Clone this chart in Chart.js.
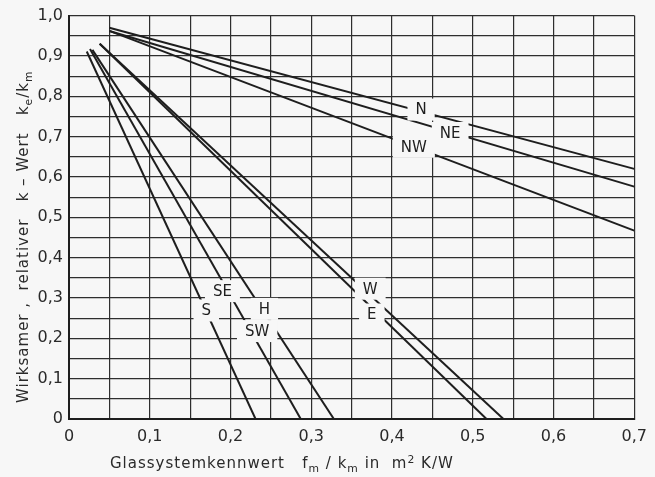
<!DOCTYPE html>
<html>
<head>
<meta charset="utf-8">
<script src="https://cdn.jsdelivr.net/npm/chart.js@4.4.1/dist/chart.umd.min.js"></script>
<style>
  html, body { margin: 0; padding: 0; background: #f7f7f7; }
  #wrap { width: 655px; height: 477px; }
</style>
</head>
<body>
<div id="wrap"><canvas id="kwert" width="655" height="477"></canvas></div>
<script>
// Glassystemkennwert fm/km (x) against relativer k-Wert ke/km (y), one straight line per orientation
const seriesNames = ['N', 'NE', 'NW', 'W', 'E', 'S', 'SE/SW', 'H'];
const nX = [0.05, 0.70],   nY = [0.970, 0.620];
const neX = [0.05, 0.70],  neY = [0.962, 0.576];
const nwX = [0.05, 0.70],  nwY = [0.962, 0.467];
const wX = [0.038, 0.538], wY = [0.930, 0];
const eX = [0.038, 0.517], eY = [0.930, 0];
const sX = [0.022, 0.231], sY = [0.911, 0];
const seswX = [0.026, 0.287], seswY = [0.917, 0];
const hX = [0.029, 0.328], hY = [0.915, 0];
const xTicks = [0, 0.1, 0.2, 0.3, 0.4, 0.5, 0.6, 0.7];
const yTicks = [0, 0.1, 0.2, 0.3, 0.4, 0.5, 0.6, 0.7, 0.8, 0.9, 1.0];

// curve labels (text, fm, ke/km where the label sits)
const labelText = ['N', 'NE', 'NW', 'W', 'E', 'SE', 'S', 'H', 'SW'];
const labelX = [0.436, 0.472, 0.427, 0.373, 0.375, 0.190, 0.170, 0.242, 0.233];
const labelY = [0.767, 0.709, 0.675, 0.323, 0.259, 0.317, 0.269, 0.273, 0.218];

const BG = '#f7f7f7';
const INK = '#1e1e1e';
const FONT = '"DejaVu Sans", sans-serif';

const allX = [nX, neX, nwX, wX, eX, sX, seswX, hX];
const allY = [nY, neY, nwY, wY, eY, sY, seswY, hY];

const datasets = seriesNames.map((name, i) => ({
    label: name,
    data: allX[i].map((x, j) => ({ x: x, y: allY[i][j] })),
    showLine: true,
    borderColor: INK,
    borderWidth: 2,
    pointRadius: 0,
    fill: false
}));

function comma(v) {
    const r = Math.round(v * 100);
    if (r === 0) return '0';
    if (r % 10 !== 0) return '';
    return (r / 100).toFixed(1).replace('.', ',');
}

// draws text made of pieces, some of them lowered (subscript) or raised (superscript)
function richText(ctx, parts, x, y, size) {
    let cx = x;
    parts.forEach(p => {
        const s = p.sub || p.sup ? size * 0.72 : size;
        ctx.font = s + 'px ' + FONT;
        const dy = p.sub ? size * 0.28 : (p.sup ? -size * 0.35 : 0);
        ctx.fillText(p.t, cx, y + dy);
        cx += ctx.measureText(p.t).width;
    });
}

const labelPlugin = {
    id: 'curveLabels',
    afterDatasetsDraw(chart) {
        const ctx = chart.ctx;
        const xs = chart.scales.x, ys = chart.scales.y;
        ctx.save();
        ctx.font = '15px ' + FONT;
        ctx.textAlign = 'center';
        ctx.textBaseline = 'middle';
        labelText.forEach((t, i) => {
            const px = xs.getPixelForValue(labelX[i]);
            const py = ys.getPixelForValue(labelY[i]);
            const w = ctx.measureText(t).width + 16;
            ctx.fillStyle = BG;
            ctx.fillRect(px - w / 2, py - 11, w, 22);
            ctx.fillStyle = INK;
            ctx.fillText(t, px, py + 1);
        });
        ctx.restore();
    },
    afterDraw(chart) {
        const ctx = chart.ctx;
        ctx.save();
        ctx.fillStyle = '#2a2a2a';
        ctx.textBaseline = 'alphabetic';
        ctx.letterSpacing = '1px';
        // x axis title
        richText(ctx, [
            { t: 'Glassystemkennwert   f' }, { t: 'm', sub: true },
            { t: ' / k' }, { t: 'm', sub: true },
            { t: ' in  m' }, { t: '2', sup: true }, { t: ' K/W' }
        ], 110, 468, 15);
        // y axis title, rotated
        ctx.translate(28, 403);
        ctx.rotate(-Math.PI / 2);
        richText(ctx, [
            { t: 'Wirksamer ,  relativer   k – Wert   k' }, { t: 'e', sub: true },
            { t: '/k' }, { t: 'm', sub: true }
        ], 0, 0, 15);
        ctx.restore();
    }
};

const ctx = document.getElementById('kwert').getContext('2d');
const chart = new Chart(ctx, {
    type: 'scatter',
    data: { datasets: datasets },
    plugins: [labelPlugin],
    options: {
        responsive: false,
        animation: false,
        layout: { padding: { top: 14, right: 18, left: 0, bottom: 0 } },
        plugins: {
            legend: { display: false },
            tooltip: { enabled: false }
        },
        scales: {
            x: {
                type: 'linear',
                min: xTicks[0],
                max: xTicks[xTicks.length - 1],
                afterFit: (s) => { s.height = 58; },
                ticks: {
                    stepSize: 0.05,
                    autoSkip: false,
                    maxRotation: 0,
                    padding: 8,
                    color: '#2a2a2a',
                    font: { family: FONT, size: 16 },
                    callback: (v) => comma(v)
                },
                grid: { color: '#2e2e2e', lineWidth: 1.2, drawTicks: false },
                border: { color: INK, width: 2 }
            },
            y: {
                type: 'linear',
                min: yTicks[0],
                max: yTicks[yTicks.length - 1],
                afterFit: (s) => { s.width = 69; },
                ticks: {
                    stepSize: 0.05,
                    autoSkip: false,
                    padding: 6,
                    color: '#2a2a2a',
                    font: { family: FONT, size: 16 },
                    callback: (v) => comma(v)
                },
                grid: { color: '#2e2e2e', lineWidth: 1.2, drawTicks: false },
                border: { color: INK, width: 2 }
            }
        }
    }
});
</script>
</body>
</html>
